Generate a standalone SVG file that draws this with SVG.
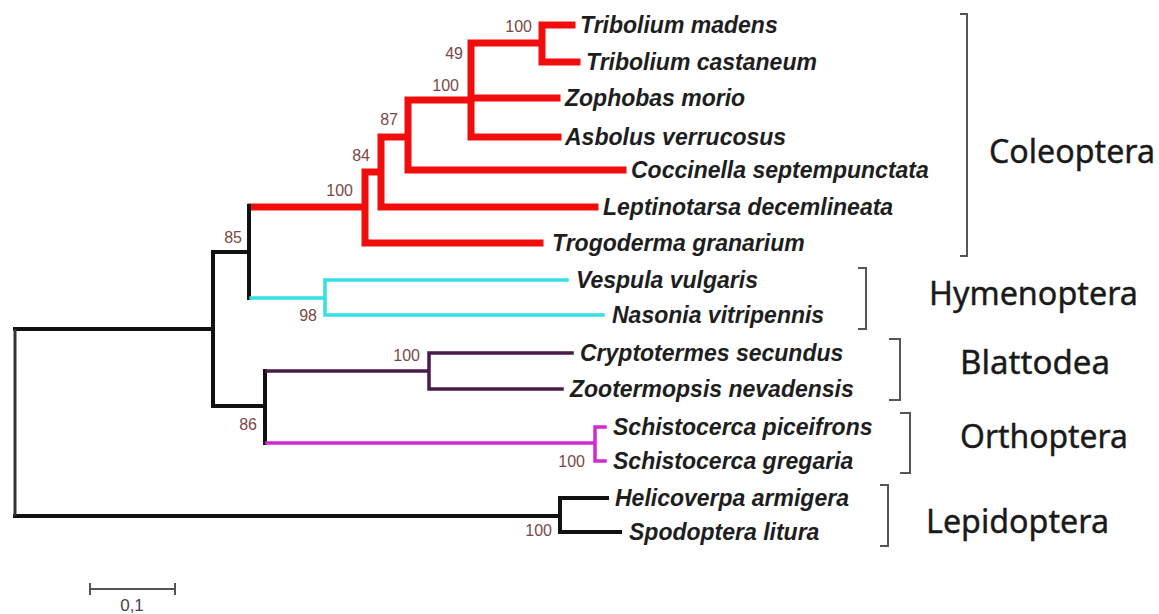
<svg xmlns="http://www.w3.org/2000/svg" width="1159" height="614" viewBox="0 0 1159 614">
<style>
.red{stroke:#f20d0d;stroke-width:7;fill:none;stroke-linecap:square}
.blk{stroke:#111;stroke-width:4;fill:none;stroke-linecap:square}
.cyan{stroke:#33e0e3;stroke-width:3.5;fill:none;stroke-linecap:square}
.pur{stroke:#4a1a48;stroke-width:3.5;fill:none;stroke-linecap:square}
.mag{stroke:#d22ad2;stroke-width:3.5;fill:none;stroke-linecap:square}
.brk{stroke:#555;stroke-width:2;fill:none}
.leaf{font-family:"Liberation Sans",Arial,sans-serif;font-size:23px;font-weight:bold;font-style:italic;fill:#1e1e1e}
.bs{font-family:"Liberation Sans",Arial,sans-serif;font-size:16px;fill:#7a4848;text-anchor:end}
.grp{font-family:"Noto Sans","DejaVu Sans",sans-serif;font-size:32px;font-weight:normal;fill:#1a1a1a;stroke:#1a1a1a;stroke-width:0.4}
</style>
<rect width="1159" height="614" fill="#fff"/>
<g id="connectors">
<path class="red" d="M542 25V62M542 25H572M542 62H577M471 43H542M471 43V137M471 98H557M471 137H558M408 100H471M408 100V170M408 170H623M381 137H408M381 137V207M381 207H595M365 172H381M365 172V243M365 243H540M251 207H365"/>
<path class="blk" d="M249 206V298M213 252H249M213 252V406M213 406H265M265 371V443M15 329H213M560 498V532M15 516H560M560 498H607M560 532H620"/>
<path d="M15 329V516" stroke="#333" stroke-width="3" fill="none"/>
<path class="cyan" d="M251 298H325M325 280V315M325 280H567M325 315H603"/>
<path class="pur" d="M267 371H429M429 353V389M429 353H572M429 389H562"/>
<path class="mag" d="M267 443H595M595 427V461M595 427H605M595 461H605"/>
</g>
<g id="bootstrap">
<text class="bs" x="532" y="32">100</text>
<text class="bs" x="463" y="59">49</text>
<text class="bs" x="459" y="91">100</text>
<text class="bs" x="398" y="125">87</text>
<text class="bs" x="370" y="161">84</text>
<text class="bs" x="353" y="196">100</text>
<text class="bs" x="242" y="243">85</text>
<text class="bs" x="317" y="321">98</text>
<text class="bs" x="257" y="430">86</text>
<text class="bs" x="420" y="361">100</text>
<text class="bs" x="585" y="467">100</text>
<text class="bs" x="552" y="536">100</text>
</g>
<g id="leaf-tribolium-madens"><text class="leaf" x="580" y="33">Tribolium madens</text></g>
<g id="leaf-tribolium-castaneum"><text class="leaf" x="586" y="70">Tribolium castaneum</text></g>
<g id="leaf-zophobas-morio"><text class="leaf" x="565" y="106">Zophobas morio</text></g>
<g id="leaf-asbolus-verrucosus"><text class="leaf" x="565" y="145">Asbolus verrucosus</text></g>
<g id="leaf-coccinella"><text class="leaf" x="631" y="178">Coccinella septempunctata</text></g>
<g id="leaf-leptinotarsa"><text class="leaf" x="603" y="215">Leptinotarsa decemlineata</text></g>
<g id="leaf-trogoderma"><text class="leaf" x="552" y="251">Trogoderma granarium</text></g>
<g id="leaf-vespula"><text class="leaf" x="576" y="288">Vespula vulgaris</text></g>
<g id="leaf-nasonia"><text class="leaf" x="612" y="323">Nasonia vitripennis</text></g>
<g id="leaf-cryptotermes"><text class="leaf" x="580" y="361">Cryptotermes secundus</text></g>
<g id="leaf-zootermopsis"><text class="leaf" x="570" y="397">Zootermopsis nevadensis</text></g>
<g id="leaf-schistocerca-p"><text class="leaf" x="613" y="435">Schistocerca piceifrons</text></g>
<g id="leaf-schistocerca-g"><text class="leaf" x="613" y="469">Schistocerca gregaria</text></g>
<g id="leaf-helicoverpa"><text class="leaf" x="615" y="506">Helicoverpa armigera</text></g>
<g id="leaf-spodoptera"><text class="leaf" x="629" y="540">Spodoptera litura</text></g>
<g id="group-coleoptera">
<path class="brk" d="M960 14H967V256H960"/>
<text class="grp" x="989" y="163" textLength="166" lengthAdjust="spacingAndGlyphs">Coleoptera</text>
</g>
<g id="group-hymenoptera">
<path class="brk" d="M858 268H866V329H858"/>
<text class="grp" x="929" y="305" textLength="209" lengthAdjust="spacingAndGlyphs">Hymenoptera</text>
</g>
<g id="group-blattodea">
<path class="brk" d="M889 339H900V400H889"/>
<text class="grp" x="960" y="374" textLength="150" lengthAdjust="spacingAndGlyphs">Blattodea</text>
</g>
<g id="group-orthoptera">
<path class="brk" d="M900 413H910V473H900"/>
<text class="grp" x="960" y="448" textLength="168" lengthAdjust="spacingAndGlyphs">Orthoptera</text>
</g>
<g id="group-lepidoptera">
<path class="brk" d="M880 485H888V546H880"/>
<text class="grp" x="926" y="533" textLength="183" lengthAdjust="spacingAndGlyphs">Lepidoptera</text>
</g>
<g id="scale-bar">
<path d="M90 589H175M90 583V595M175 583V595" stroke="#555" stroke-width="2" fill="none"/>
<text x="132" y="611" text-anchor="middle" font-family="Liberation Sans, Arial, sans-serif" font-size="17" fill="#444">0,1</text>
</g>
</svg>
